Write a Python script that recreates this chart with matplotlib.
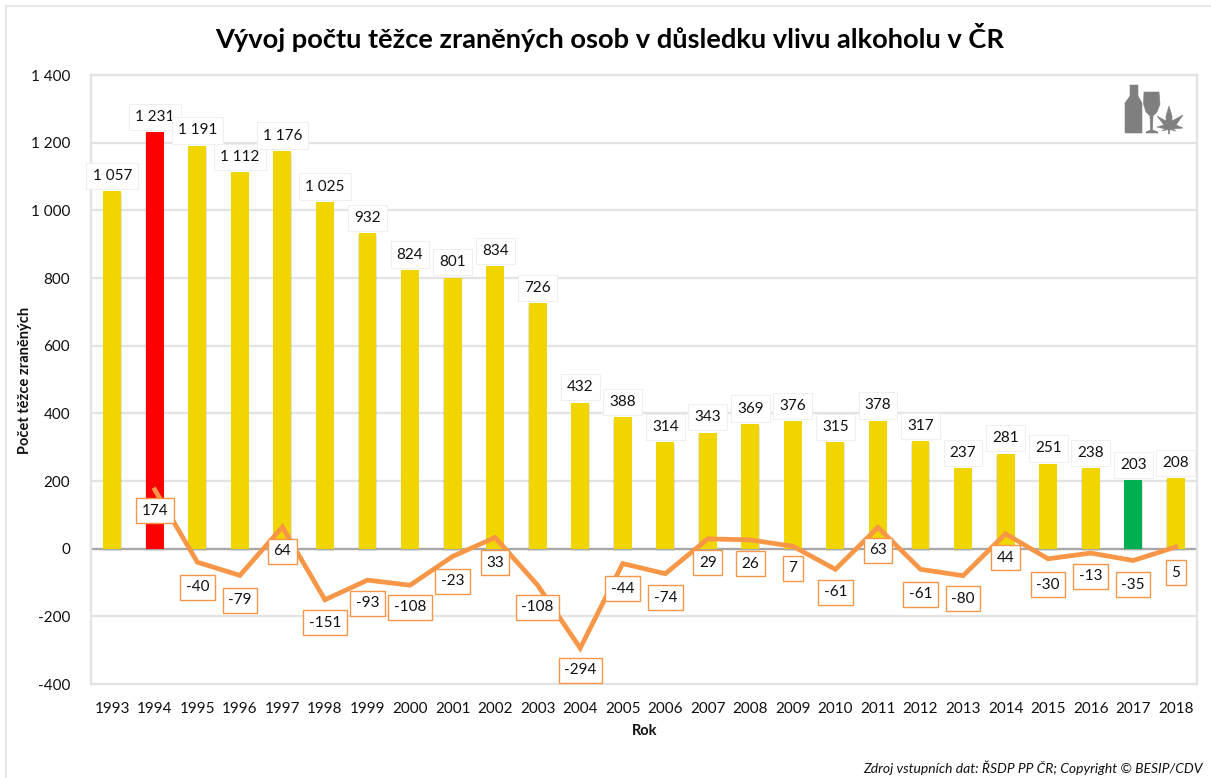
import matplotlib
matplotlib.use("Agg")
import matplotlib.pyplot as plt
from matplotlib.patches import Polygon
from matplotlib.lines import Line2D
import numpy as np

plt.rcParams['font.family'] = ['Lato', 'DejaVu Sans']

W, H = 1211, 778

years = list(range(1993, 2019))
injured = [1057, 1231, 1191, 1112, 1176, 1025, 932, 824, 801, 834, 726, 432, 388,
           314, 343, 369, 376, 315, 378, 317, 237, 281, 251, 238, 203, 208]
change_years = list(range(1994, 2019))
change = [174, -40, -79, 64, -151, -93, -108, -23, 33, -108, -294, -44, -74,
          29, 26, 7, -61, 63, -61, -80, 44, -30, -13, -35, 5]
yticks = [-400, -200, 0, 200, 400, 600, 800, 1000, 1200, 1400]

# label offsets from the line point, in pixels (hand placed in the original)
change_dy = [-21, -25, -25, -24, -23, -23, -22, -25, -25, -22, -22, -25, -24,
             -24, -24, -22, -23, -23, -25, -23, -24, -26, -23, -24, -26]

YELLOW = '#F0D500'
RED = '#FF0000'
GREEN = '#00B050'
ORANGE = '#F79646'
GRID = '#E3E3E3'
FS = 11


def fmt(v):
    return f"{v:,}".replace(",", " ")


fig = plt.figure(figsize=(W / 100, H / 100), dpi=100)
ax = fig.add_axes([91 / W, 1 - 684 / H, (1197 - 91) / W, (684 - 75) / H])

colors = [YELLOW] * len(years)
colors[years.index(1994)] = RED
colors[years.index(2017)] = GREEN

# soft shadow under the bars
ax.bar(years, injured, width=0.44, color='#000000', alpha=0.10, zorder=2,
       bottom=-6)
ax.bar(years, injured, width=0.42, color=colors, zorder=3)
ax.plot(change_years, change, color=ORANGE, lw=3.4, zorder=4,
        solid_joinstyle='miter')

ax.set_xlim(1992.5, 2018.5)
ax.set_ylim(-400, 1400)
ax.set_yticks(yticks)
ax.set_yticklabels([fmt(v) for v in yticks], fontsize=FS, color='#111111')
ax.set_xticks(years)
ax.set_xticklabels(years, fontsize=FS, color='#111111')
ax.tick_params(length=0)
ax.tick_params(axis='y', pad=15)
ax.tick_params(axis='x', pad=13)
ax.grid(axis='y', color=GRID, lw=1.6, zorder=0)
ax.set_axisbelow(True)
ax.axhline(0, color='#A6A6A6', lw=1.6, zorder=2.5)
for s in ax.spines.values():
    s.set_color(GRID)
    s.set_linewidth(1.6)

for x, v in zip(years, injured):
    ax.annotate(fmt(v), (x, v), xytext=(0, 11), textcoords='offset points',
                ha='center', va='center', fontsize=FS, color='#111111', zorder=6,
                bbox=dict(boxstyle='square,pad=0.4', fc='white', ec='#EFEFEF', lw=0.8))

for x, v, dy in zip(change_years, change, change_dy):
    ax.annotate(str(v), (x, v), xytext=(0, dy * 0.72), textcoords='offset points',
                ha='center', va='center', fontsize=FS, color='#111111', zorder=7,
                bbox=dict(boxstyle='square,pad=0.36', fc='white', ec=ORANGE, lw=1))

fig.text(610 / W, 1 - 37 / H, "Vývoj počtu těžce zraněných osob v důsledku vlivu alkoholu v ČR",
         ha='center', va='center', fontsize=19.6, fontweight='bold', color='#000000')
fig.text(25 / W, 1 - 380 / H, "Počet těžce zraněných", rotation=90, ha='center', va='center',
         fontsize=10.5, fontweight='bold', color='#111111')
fig.text(645 / W, 1 - 731 / H, "Rok", ha='center', va='center',
         fontsize=10.5, fontweight='bold', color='#111111')
fig.text(1203 / W, 1 - 768 / H, "Zdroj vstupních dat: ŘSDP PP ČR; Copyright © BESIP/CDV",
         ha='right', va='center', fontsize=10, style='italic', color='#111111')

# outer frame lines, left and top
fig.add_artist(Line2D([5.5 / W, 5.5 / W], [0, 1 - 5.5 / H], color=GRID, lw=1.2))
fig.add_artist(Line2D([5.5 / W, 1], [1 - 5.5 / H, 1 - 5.5 / H], color=GRID, lw=1.2))


def px(points):
    return [(x / W, 1 - y / H) for x, y in points]


# icon: bottle, glass, leaf
ICON = '#7F7F7F'
bottle = [(1130, 85), (1138, 85), (1138, 96), (1142, 103), (1142, 133),
          (1125, 133), (1125, 103), (1130, 96)]
glass = [(1144, 92), (1159, 92), (1160, 104), (1157, 112), (1153, 116), (1152.5, 130),
         (1158, 132), (1158, 133), (1146, 133), (1146, 132), (1150.5, 130), (1150, 116),
         (1146, 112), (1143.5, 104)]
leaf = [(1169, 106), (1172, 116), (1172, 121), (1183, 115), (1176, 125), (1183, 128),
        (1173, 129), (1176, 131), (1170, 129.5), (1169.5, 134), (1168.5, 134), (1168, 129.5),
        (1162, 131), (1165, 129), (1157, 127), (1164, 125), (1157, 116), (1166, 121),
        (1166, 116)]
for shape in (bottle, glass, leaf):
    fig.add_artist(Polygon(px(shape), closed=True, fc=ICON, ec=ICON, lw=0.4,
                           transform=fig.transFigure))

fig.savefig("out.png", dpi=100)
